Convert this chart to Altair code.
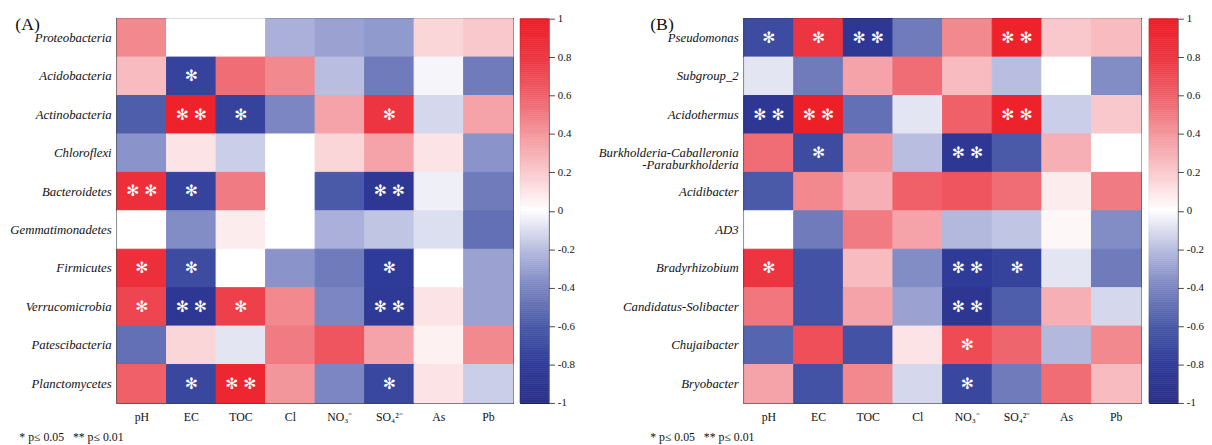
import altair as alt
import pandas as pd
import numpy as np

env = ["pH", "EC", "TOC", "Cl", "NO₃⁻", "SO₄²⁻", "As", "Pb"]

# ---------- Panel A (phyla) ----------
phyla = ["Proteobacteria", "Acidobacteria", "Actinobacteria", "Chloroflexi", "Bacteroidetes",
         "Gemmatimonadetes", "Firmicutes", "Verrucomicrobia", "Patescibacteria", "Planctomycetes"]
r_proteobacteria   = [0.45, 0.00, 0.00, -0.25, -0.30, -0.33, 0.15, 0.20]
r_acidobacteria    = [0.25, -0.75, 0.55, 0.45, -0.20, -0.45, -0.03, -0.45]
r_actinobacteria   = [-0.58, 0.95, -0.75, -0.40, 0.35, 0.80, -0.12, 0.35]
r_chloroflexi      = [-0.35, 0.10, -0.15, 0.00, 0.15, 0.35, 0.10, -0.35]
r_bacteroidetes    = [0.85, -0.75, 0.50, 0.00, -0.60, -0.85, -0.05, -0.45]
r_gemmatimonadetes = [0.00, -0.38, 0.07, 0.00, -0.25, -0.18, -0.10, -0.50]
r_firmicutes       = [0.85, -0.70, 0.00, -0.35, -0.45, -0.80, 0.00, -0.30]
r_verrucomicrobia  = [0.72, -0.85, 0.75, 0.45, -0.40, -0.82, 0.10, -0.30]
r_patescibacteria  = [-0.50, 0.15, -0.08, 0.50, 0.65, 0.35, 0.05, 0.45]
r_planctomycetes   = [0.60, -0.72, 0.92, 0.40, -0.40, -0.72, 0.10, -0.15]
phyla_r = [r_proteobacteria, r_acidobacteria, r_actinobacteria, r_chloroflexi, r_bacteroidetes,
           r_gemmatimonadetes, r_firmicutes, r_verrucomicrobia, r_patescibacteria, r_planctomycetes]
phyla_sig = [
    ["", "", "", "", "", "", "", ""],
    ["", "*", "", "", "", "", "", ""],
    ["", "**", "*", "", "", "*", "", ""],
    ["", "", "", "", "", "", "", ""],
    ["**", "*", "", "", "", "**", "", ""],
    ["", "", "", "", "", "", "", ""],
    ["*", "*", "", "", "", "*", "", ""],
    ["*", "**", "*", "", "", "**", "", ""],
    ["", "", "", "", "", "", "", ""],
    ["", "*", "**", "", "", "*", "", ""],
]

# ---------- Panel B (genera) ----------
genera = ["Pseudomonas", "Subgroup_2", "Acidothermus", "Burkholderia-Caballeronia-Paraburkholderia",
          "Acidibacter", "AD3", "Bradyrhizobium", "Candidatus-Solibacter", "Chujaibacter", "Bryobacter"]
r_pseudomonas   = [-0.70, 0.80, -0.85, -0.45, 0.45, 0.95, 0.20, 0.25]
r_subgroup2     = [-0.08, -0.45, 0.35, 0.55, 0.25, -0.20, 0.00, -0.38]
r_acidothermus  = [-0.85, 0.97, -0.50, -0.08, 0.60, 0.95, -0.15, 0.20]
r_burkholderia  = [0.55, -0.70, 0.40, -0.20, -0.85, -0.60, 0.30, 0.00]
r_acidibacter   = [-0.60, 0.45, 0.30, 0.60, 0.65, 0.55, 0.07, 0.50]
r_ad3           = [0.00, -0.45, 0.50, 0.35, -0.22, -0.18, 0.03, -0.38]
r_bradyrhizobium = [0.80, -0.65, 0.25, -0.38, -0.80, -0.75, -0.08, -0.45]
r_solibacter    = [0.52, -0.65, 0.35, -0.30, -0.88, -0.58, 0.30, -0.12]
r_chujaibacter  = [-0.55, 0.68, -0.65, 0.10, 0.70, 0.58, -0.22, 0.45]
r_bryobacter    = [0.35, -0.65, 0.45, -0.12, -0.72, -0.45, 0.55, 0.25]
genera_r = [r_pseudomonas, r_subgroup2, r_acidothermus, r_burkholderia, r_acidibacter,
            r_ad3, r_bradyrhizobium, r_solibacter, r_chujaibacter, r_bryobacter]
genera_sig = [
    ["*", "*", "**", "", "", "**", "", ""],
    ["", "", "", "", "", "", "", ""],
    ["**", "**", "", "", "", "**", "", ""],
    ["", "*", "", "", "**", "", "", ""],
    ["", "", "", "", "", "", "", ""],
    ["", "", "", "", "", "", "", ""],
    ["*", "", "", "", "**", "*", "", ""],
    ["", "", "", "", "**", "", "", ""],
    ["", "", "", "", "*", "", "", ""],
    ["", "", "", "", "*", "", "", ""],
]

ticks_cb = [-1, -0.8, -0.6, -0.4, -0.2, 0, 0.2, 0.4, 0.6, 0.8, 1]
cmap_stops = [-1, -0.8, -0.6, -0.4, -0.2, 0, 0.2, 0.4, 0.6, 0.8, 1]
cmap_colors = ["#2b3088", "#2f3b98", "#4a5aa8", "#7c86c2", "#b9bee0", "#ffffff",
               "#f9c8cc", "#f3969c", "#ef6068", "#ec3541", "#ed1c24"]

SERIF = "Liberation Serif"
star_map = {"": "", "*": "✻", "**": "✻ ✻"}

cscale = alt.Scale(domain=cmap_stops, range=cmap_colors, interpolate="rgb")


def to_df(taxa, rows, sigs):
    recs = []
    for t, rr, ss in zip(taxa, rows, sigs):
        for e, v, s in zip(env, rr, ss):
            recs.append({"taxon": t, "env": e, "r": v, "star": star_map[s]})
    return pd.DataFrame(recs)


def heat(df, taxa, panel_title, foot, w, h, title_x, foot_x):
    xenc = alt.X("env:N", sort=env, scale=alt.Scale(paddingInner=0, paddingOuter=0),
                 axis=alt.Axis(orient="bottom", labelAngle=0, ticks=False, domain=False,
                               labelPadding=9, labelFont=SERIF, labelFontSize=12, labelColor="#111",
                               title=foot, titleX=foot_x, titleY=34, titleAlign="left",
                               titleBaseline="middle", titleFont=SERIF, titleFontSize=12,
                               titleFontWeight="normal", titleColor="#111"))
    yenc = alt.Y("taxon:N", sort=taxa, scale=alt.Scale(paddingInner=0, paddingOuter=0),
                 axis=alt.Axis(ticks=False, domain=False, labelPadding=6, labelFont=SERIF,
                               labelFontSize=13, labelFontStyle="italic", labelColor="#111",
                               labelLineHeight=12,
                               labelExpr="datum.value == 'Burkholderia-Caballeronia-Paraburkholderia' ? ['Burkholderia-Caballeronia', '-Paraburkholderia'] : datum.label",
                               title=panel_title, titleAngle=0, titleX=title_x, titleY=-3,
                               titleAlign="left", titleBaseline="top", titleFont=SERIF,
                               titleFontSize=18, titleFontWeight="normal", titleColor="#111"))
    base = alt.Chart(df)
    rect = base.mark_rect().encode(
        x=xenc, y=yenc,
        color=alt.Color("r:Q", scale=cscale, legend=None),
        stroke=alt.Stroke("r:Q", scale=cscale, legend=None),
    )
    txt = base.mark_text(font="DejaVu Sans", fontSize=16, color="white", baseline="middle",
                         align="center").encode(
        x=alt.X("env:N", sort=env), y=alt.Y("taxon:N", sort=taxa), text="star:N")
    return alt.layer(rect, txt).properties(
        width=w, height=h, view=alt.ViewBackground(stroke="black", strokeWidth=1.6))


def colorbar(h):
    vals = np.round(np.arange(-1.0, 1.0, 0.01), 2)
    cbdf = pd.DataFrame({"v": vals, "v2": np.round(vals + 0.01, 2)})
    return alt.Chart(cbdf).mark_rect(strokeWidth=0.6).encode(
        y=alt.Y("v:Q", scale=alt.Scale(domain=[-1, 1], nice=False, zero=False),
                axis=alt.Axis(orient="right", values=ticks_cb, grid=False, domain=False,
                              ticks=True, tickSize=6, tickColor="#444", labelPadding=3,
                              labelFont=SERIF, labelFontSize=11, labelColor="#111",
                              labelExpr="toString(round(datum.value*10)/10)", title=None)),
        y2="v2:Q",
        color=alt.Color("v:Q", scale=cscale, legend=None),
        stroke=alt.Stroke("v:Q", scale=cscale, legend=None),
    ).properties(width=29, height=h, view=alt.ViewBackground(stroke="black", strokeWidth=1))


dfA = to_df(phyla, phyla_r, phyla_sig)
dfB = to_df(genera, genera_r, genera_sig)

foot = "* p≤ 0.05\u00a0\u00a0\u00a0** p≤ 0.01"
A = heat(dfA, phyla, "(A)", foot, 403, 391, -104, -100)
B = heat(dfB, genera, "(B)", foot, 404, 391, -96, -96)

chart = alt.hconcat(
    alt.hconcat(A, colorbar(391), spacing=4),
    alt.hconcat(B, colorbar(391), spacing=5),
    spacing=22,
).properties(
    padding={"left": 0, "top": 0, "right": 0, "bottom": 0}
).configure_view(stroke="black").configure(background="white")

chart.save("out.html", embed_options={"renderer": "svg", "actions": False})
